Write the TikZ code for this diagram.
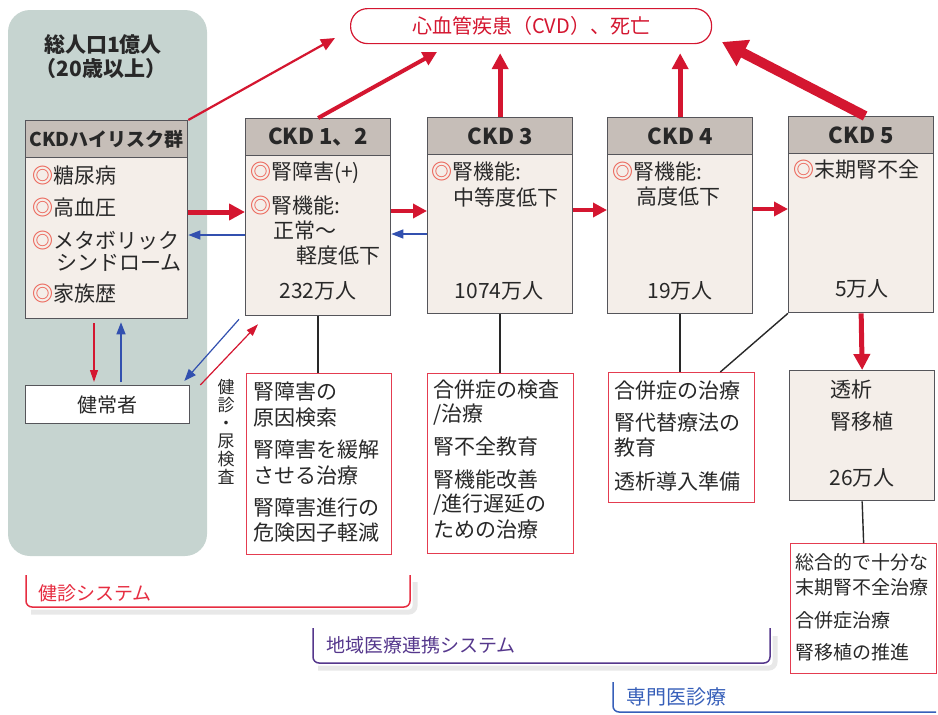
\documentclass[tikz,border=0pt]{standalone}
\usepackage{fontspec}
\setmainfont{Noto Sans CJK JP}
\usetikzlibrary{arrows.meta,calc}
\definecolor{panel}{RGB}{198,212,208}
\definecolor{hdrfill}{RGB}{198,190,184}
\definecolor{bodyfill}{RGB}{244,238,233}
\definecolor{ink}{RGB}{40,40,40}
\definecolor{frame}{RGB}{85,85,90}
\definecolor{cvdred}{RGB}{212,22,48}
\definecolor{trred}{RGB}{228,60,80}
\definecolor{circ}{RGB}{236,100,88}
\definecolor{bluearr}{RGB}{50,80,175}
\definecolor{sysred}{RGB}{230,45,65}
\definecolor{syspurple}{RGB}{85,55,140}
\definecolor{sysblue}{RGB}{55,95,185}
\newcommand\myDC{\textcolor{circ}{\textbf{◎}}}
\tikzset{
  txt/.style={inner sep=0pt, anchor=west, text=ink, font=\fontsize{21}{24}\selectfont},
  stxt/.style={txt, font=\fontsize{19}{22}\selectfont},
  ctxt/.style={txt, anchor=center},
  box/.style={draw=frame, line width=1.3pt, anchor=north west, inner sep=0pt},
  bodybox/.style={box, fill=bodyfill},
  hdr/.style={box, fill=hdrfill, minimum height=37pt, text=ink, font=\fontsize{22}{24}\selectfont\bfseries},
  tbox/.style={draw=trred, line width=1.3pt, fill=white, anchor=north west, inner sep=0pt},
  conn/.style={draw=ink, line width=1.4pt},
  arrXL/.style={draw=cvdred, line width=10pt, -{Triangle[length=24pt,width=28pt]}},
  arrL/.style={draw=cvdred, line width=5pt, -{Triangle[length=16pt,width=16pt]}},
  arrM/.style={draw=cvdred, line width=4pt, -{Triangle[length=14pt,width=14pt]}},
  arrS/.style={draw=cvdred, line width=2.2pt, -{Triangle[length=14pt,width=12pt]}},
  redT/.style={draw=cvdred, line width=1.2pt, -{Triangle[length=12pt,width=8pt]}},
  blueA/.style={draw=bluearr, line width=1.2pt, -{Triangle[length=12pt,width=9pt]}},
  bracket/.style={line width=1.5pt, rounded corners=6pt},
  shadow/.style={draw=black!9, line width=5pt, rounded corners=6pt},
}
\begin{document}
\begin{tikzpicture}[x=1pt,y=-1pt]
\useasboundingbox (0,0) rectangle (938,715);
% left panel
\fill[panel, rounded corners=22pt] (8,10) rectangle (207,556);
\node[ctxt, font=\fontsize{21}{24}\selectfont\bfseries] (pop1) at (103,45) {総人口1億人};
\node[ctxt, font=\fontsize{21}{24}\selectfont\bfseries] (pop2) at (101,69) {（20歳以上）};

% high-risk box
\node[bodybox, minimum width=162pt, minimum height=198pt] (hr) at (25,120) {};
\node[hdr, minimum width=162pt, font=\fontsize{19}{22}\selectfont\bfseries] (hrh) at (25,120) {CKDハイリスク群};
\node[txt] (hr1) at (32,176) {\myDC 糖尿病};
\node[txt] (hr2) at (32,208) {\myDC 高血圧};
\node[txt] (hr3) at (32,241) {\myDC メタボリック};
\node[txt] (hr4) at (56,263) {シンドローム};
\node[txt] (hr5) at (32,294) {\myDC 家族歴};

% healthy
\node[box, fill=white, minimum width=164pt, minimum height=38pt, font=\fontsize{20}{22}\selectfont, text=ink] (kk) at (25,385) {健常者};

% CKD boxes
\node[bodybox, minimum width=145pt, minimum height=197pt] (c12) at (245,118) {};
\node[hdr, minimum width=145pt] (c12h) at (245,118) {CKD 1、2};
\node[bodybox, minimum width=145pt, minimum height=196pt] (c3) at (427,117) {};
\node[hdr, minimum width=145pt] (c3h) at (427,117) {CKD 3};
\node[bodybox, minimum width=145pt, minimum height=196pt] (c4) at (607,117) {};
\node[hdr, minimum width=145pt] (c4h) at (607,117) {CKD 4};
\node[bodybox, minimum width=145pt, minimum height=196pt] (c5) at (788,116) {};
\node[hdr, minimum width=145pt] (c5h) at (788,116) {CKD 5};

\node[txt] (a1) at (250,173) {\myDC 腎障害(+)};
\node[txt] (a2) at (250,206) {\myDC 腎機能:};
\node[txt] (a3) at (273,231) {正常～};
\node[txt] (a4) at (296,256) {軽度低下};
\node[ctxt] (a5) at (318,291) {232万人};

\node[txt] (b1) at (431,172) {\myDC 腎機能:};
\node[txt] (b2) at (453,197) {中等度低下};
\node[ctxt] (b3) at (499,291) {1074万人};

\node[txt] (d1) at (612,172) {\myDC 腎機能:};
\node[txt] (d2) at (636,197) {高度低下};
\node[ctxt] (d3) at (680,291) {19万人};

\node[txt] (f1) at (793,170) {\myDC 末期腎不全};
\node[ctxt] (f2) at (862,289) {5万人};

% CVD
\node[draw=cvdred, line width=1.2pt, rounded corners=17pt, fill=white, anchor=north west,
      minimum width=361pt, minimum height=35pt, text=cvdred, font=\fontsize{20}{22}\selectfont] (cvd) at (350,8) {心血管疾患（CVD）、死亡};
\coordinate (e0) at (335,38);
\coordinate (e1) at (437,52);
\coordinate (e5) at (722,42);

% treatment boxes
\node[tbox, minimum width=145pt, minimum height=181pt] (tb1) at (246,373) {};
\node[txt] (t11) at (253,392) {腎障害の};
\node[txt] (t12) at (253,418) {原因検索};
\node[txt] (t13) at (253,450) {腎障害を緩解};
\node[txt] (t14) at (253,476) {させる治療};
\node[txt] (t15) at (253,508) {腎障害進行の};
\node[txt] (t16) at (253,533) {危険因子軽減};

\node[tbox, minimum width=146pt, minimum height=180pt] (tb2) at (427,373) {};
\node[txt] (t21) at (433,390) {合併症の検査};
\node[txt] (t22) at (433,415) {/治療};
\node[txt] (t23) at (433,447) {腎不全教育};
\node[txt] (t24) at (433,480) {腎機能改善};
\node[txt] (t25) at (433,505) {/進行遅延の};
\node[txt] (t26) at (433,530) {ための治療};

\node[tbox, minimum width=146pt, minimum height=130pt] (tb3) at (608,372) {};
\node[txt] (t31) at (614,391) {合併症の治療};
\node[txt] (t32) at (614,423) {腎代替療法の};
\node[txt] (t33) at (614,448) {教育};
\node[txt] (t34) at (614,481) {透析導入準備};

\node[bodybox, minimum width=145pt, minimum height=130pt] (dial) at (789,370) {};
\node[txt] (t41) at (830,390) {透析};
\node[txt] (t42) at (830,422) {腎移植};
\node[ctxt] (t43) at (862,478) {26万人};

\node[tbox, minimum width=146pt, minimum height=130pt] (tb4) at (790,543) {};
\node[stxt] (t51) at (795,562) {総合的で十分な};
\node[stxt] (t52) at (795,587) {末期腎不全治療};
\node[stxt] (t53) at (795,620) {合併症治療};
\node[stxt] (t54) at (795,652) {腎移植の推進};

% vertical label
\node[inner sep=0pt, align=center, text=ink, font=\fontsize{17}{18}\selectfont] (kensa) at (226,432) {健\\診\\・\\尿\\検\\査};

% arrows to CVD
\draw[arrS] (hr.north east) -- (e0);
\draw[arrM] (c12.north) -- (e1);
\draw[arrL, shorten >=9pt] (c3.north) -- (c3.north |- cvd.south);
\draw[arrL, shorten >=9pt] (c4.north) -- (c4.north |- cvd.south);
\draw[arrXL] ([xshift=4pt]c5.north) -- (e5);

% horizontal progression
\draw[arrL] (hr.east |- 0,212) -- (c12.west |- 0,212);
\draw[arrM] (c12.east |- 0,211) -- (c3.west |- 0,211);
\draw[arrM] (c3.east |- 0,210) -- (c4.west |- 0,210);
\draw[arrM] (c4.east |- 0,209) -- (c5.west |- 0,209);
\draw[blueA] (c12.west |- 0,235) -- (hr.east |- 0,235);
\draw[blueA] (c3.west |- 0,234) -- (c12.east |- 0,234);

% high risk <-> healthy
\draw[redT] ($(hr.south west)+(69,4)$) -- ($(kk.north west)+(69,-3)$);
\draw[blueA] ($(kk.north west)+(96,-3)$) -- ($(hr.south west)+(96,3)$);
\draw[blueA] ($(c12.south west)+(-6,3)$) -- ($(kk.north east)+(-6,-4)$);
\draw[redT] ($(kk.north east)+(10,0)$) -- ($(c12.south west)+(13,8)$);

% connectors down
\draw[conn] (c12.south) -- (c12.south |- tb1.north);
\draw[conn] (c3.south) -- (c3.south |- tb2.north);
\draw[conn] (c4.south) -- (c4.south |- tb3.north);
\draw[conn] (c5.south west) -- ($(tb3.north east)+(-35,0)$);
\draw[arrL] (c5.south) -- (dial.north);
\draw[conn] (dial.south) -- (tb4.north);

% system brackets
\draw[shadow] (31,612) -- (415,612) -- (415,582);
\draw[bracket, draw=sysred] (26,575) -- (26,607) -- (410,607) -- (410,575);
\node[txt, text=sysred, font=\fontsize{19}{22}\selectfont] (sys1) at (38,593) {健診システム};

\draw[shadow] (318,668) -- (775,668) -- (775,636);
\draw[bracket, draw=syspurple] (313,628) -- (313,663) -- (770,663) -- (770,628);
\node[txt, text=syspurple, font=\fontsize{19}{22}\selectfont] (sys2) at (326,645) {地域医療連携システム};

\draw[bracket, draw=sysblue] (613,682) -- (613,712) -- (936,712);
\node[txt, text=sysblue, font=\fontsize{20}{22}\selectfont] (sys3) at (626,697) {専門医診療};
\end{tikzpicture}
\end{document}
